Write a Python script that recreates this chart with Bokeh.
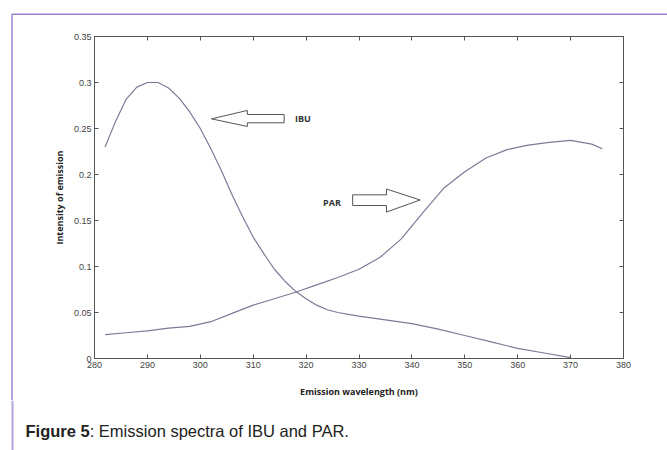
from bokeh.plotting import figure
from bokeh.layouts import column, row
from bokeh.models import FixedTicker, LinearAxis, Range1d, Spacer
from bokeh.embed import file_html
from bokeh.resources import INLINE
from bokeh.core.properties import value

# ---- data ----
ibu_x = [282, 284, 286, 288, 290, 292, 294, 296, 298, 300, 302, 304, 306, 308, 310,
         312, 314, 316, 318, 320, 322, 324, 326, 328, 330, 335, 340, 345, 350, 355,
         360, 365, 370]
ibu_y = [0.230, 0.258, 0.282, 0.295, 0.300, 0.300, 0.294, 0.283, 0.268, 0.250, 0.228,
         0.204, 0.178, 0.154, 0.132, 0.114, 0.097, 0.084, 0.073, 0.065, 0.058, 0.053,
         0.050, 0.048, 0.046, 0.042, 0.038, 0.032, 0.025, 0.018, 0.011, 0.006, 0.001]

par_x = [282, 286, 290, 294, 298, 302, 306, 310, 314, 318, 322, 326, 330, 334, 338,
         342, 346, 350, 354, 358, 362, 366, 370, 374, 376]
par_y = [0.026, 0.028, 0.030, 0.033, 0.035, 0.040, 0.049, 0.058, 0.065, 0.072, 0.080,
         0.088, 0.097, 0.110, 0.130, 0.158, 0.185, 0.203, 0.218, 0.227, 0.232, 0.235,
         0.237, 0.233, 0.228]

x_ticks = [280, 290, 300, 310, 320, 330, 340, 350, 360, 370, 380]
y_ticks = [0, 0.05, 0.1, 0.15, 0.2, 0.25, 0.3, 0.35]
y_tick_labels = ["0", "0.05", "0.1", "0.15", "0.2", "0.25", "0.3", "0.35"]

x_title = "Emission wavelength (nm)"
y_title = "Intensity of emission"
caption_bold = "Figure 5"
caption_rest = ": Emission spectra of IBU and PAR."

# annotation arrows (data coordinates)
ibu_arrow_x = [302.1, 308.9, 308.9, 315.85, 315.85, 308.9, 308.9]
ibu_arrow_y = [0.2605, 0.2696, 0.2652, 0.2652, 0.2562, 0.2562, 0.2522]
par_arrow_x = [328.8, 335.2, 335.2, 341.55, 335.2, 335.2, 328.8]
par_arrow_y = [0.1779, 0.1779, 0.1842, 0.1723, 0.1592, 0.1663, 0.1663]

AX = "#555555"
LINE = "#7b7b98"
PURPLE_TOP = "#9b80d0"
PURPLE_LEFT = "#b3a1dc"


def blank(w, h):
    f = figure(width=w, height=h, output_backend="svg", toolbar_location=None,
               x_range=Range1d(0, w), y_range=Range1d(h, 0),
               min_border=0, x_axis_location=None, y_axis_location=None)
    f.grid.visible = False
    f.outline_line_color = None
    f.background_fill_color = "white"
    f.border_fill_color = "white"
    return f


# top strip with border line
top = blank(667, 15)
top.quad(left=[11], right=[667], top=[13], bottom=[15], fill_color=PURPLE_TOP, line_color=None)

# left strip (plain element with the border line as background)
left = Spacer(width=13, height=385,
              styles={"background": "linear-gradient(to right, white 0px, white 11px, "
                                    + PURPLE_LEFT + " 11px, " + PURPLE_LEFT + " 13px)"})

# main chart
p = figure(width=654, height=385, output_backend="svg", toolbar_location=None,
           x_range=Range1d(280, 380), y_range=Range1d(0, 0.35),
           min_border_left=81, min_border_right=44, min_border_top=21,
           min_border_bottom=42, x_axis_location=None, y_axis_location=None)
p.grid.visible = False
p.outline_line_color = AX
p.outline_line_width = 1
p.background_fill_color = "white"
p.border_fill_color = "white"


def style(ax, labels=True):
    ax.axis_line_color = AX
    ax.major_tick_line_color = AX
    ax.major_tick_in = 4
    ax.major_tick_out = 0
    ax.minor_tick_line_color = None
    ax.major_label_text_font = "Liberation Sans"
    ax.major_label_text_font_size = "9px"
    ax.major_label_text_color = "#444444" if labels else None
    ax.axis_label_text_font = "Open Sans"
    ax.axis_label_text_font_style = "bold"
    ax.axis_label_text_font_size = "9px"
    ax.axis_label_text_color = "#222222"


xb = LinearAxis(ticker=FixedTicker(ticks=x_ticks), axis_label=x_title)
style(xb)
xb.major_label_standoff = 3
xb.axis_label_standoff = 14
p.add_layout(xb, "below")

yl = LinearAxis(ticker=FixedTicker(ticks=y_ticks), axis_label=y_title,
                major_label_overrides={t: s for t, s in zip(y_ticks, y_tick_labels)})
style(yl)
yl.major_label_standoff = 3
yl.axis_label_standoff = 5
p.add_layout(yl, "left")

xt = LinearAxis(ticker=FixedTicker(ticks=x_ticks))
style(xt, labels=False)
p.add_layout(xt, "above")
yr = LinearAxis(ticker=FixedTicker(ticks=y_ticks))
style(yr, labels=False)
p.add_layout(yr, "right")

p.line(ibu_x, ibu_y, line_color=LINE, line_width=1.2)
p.line(par_x, par_y, line_color=LINE, line_width=1.2)

p.patch(ibu_arrow_x, ibu_arrow_y, fill_color="white", line_color="#555555", line_width=1)
p.patch(par_arrow_x, par_arrow_y, fill_color="white", line_color="#555555", line_width=1)

p.text(x=[317.9], y=[0.2612], text=["IBU"], text_font=value("Open Sans"),
       text_font_style="bold", text_font_size="9px", text_color="#333333",
       text_baseline="middle", text_align="left")
p.text(x=[323.2], y=[0.1696], text=["PAR"], text_font=value("Open Sans"),
       text_font_style="bold", text_font_size="9px", text_color="#333333",
       text_baseline="middle", text_align="left")

# caption strip
cap = blank(667, 50)
cap.quad(left=[11], right=[13], top=[0], bottom=[50], fill_color=PURPLE_LEFT, line_color=None)
cap.text(x=[25], y=[30], text=[caption_bold], text_font=value("Liberation Sans"),
         text_font_style="bold", text_font_size="16.5px", text_color="#222222",
         text_baseline="middle", text_align="left")
cap.text(x=[89.2], y=[30], text=[caption_rest], text_font=value("Liberation Sans"),
         text_font_size="16.5px", text_color="#222222",
         text_baseline="middle", text_align="left")

layout = column(top, row(left, p), cap)

open("out.html", "w").write(file_html(layout, INLINE))
